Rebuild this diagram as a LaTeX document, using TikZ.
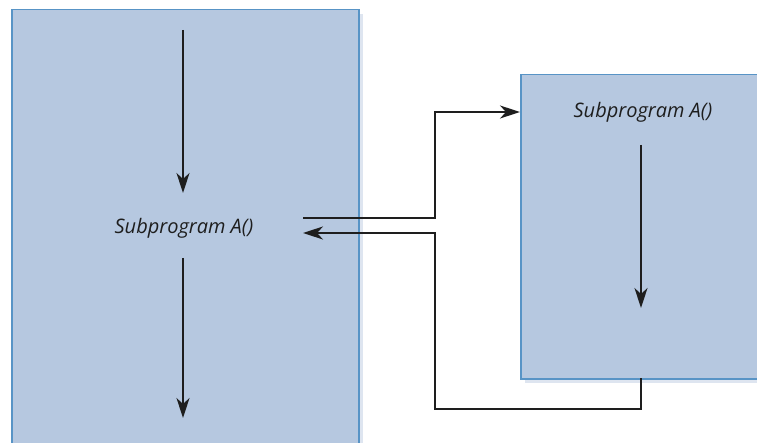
\documentclass[tikz,border=0pt]{standalone}
\usepackage{fontspec}
\setsansfont{Open Sans}
\usetikzlibrary{arrows.meta, positioning, calc}
\definecolor{boxfill}{RGB}{182,200,224}
\definecolor{boxline}{RGB}{88,148,198}
\definecolor{boxshade}{RGB}{222,229,240}
\definecolor{flowcol}{RGB}{30,30,30}

\begin{document}
\begin{tikzpicture}[x=1pt, y=-1pt,
  prog/.style={rectangle, draw=boxline, fill=boxfill, line width=1.5pt,
               inner sep=0pt, anchor=north west},
  lbl/.style={font=\fontsize{20}{24}\selectfont\sffamily\itshape, text=flowcol},
  arr/.style={-{Stealth[length=20pt, width=13pt, inset=6pt]}, line width=1.8pt, flowcol},
]
\useasboundingbox (0,0) rectangle (757,443);
% Shadows
\fill[boxshade] (16,14) rectangle (363,443);
\fill[boxshade] (525,79) rectangle (775,383);

% Programs
\node[prog, minimum width=347pt, minimum height=440pt] (main) at (11,9) {};
\node[prog, minimum width=260pt, minimum height=304pt] (sub) at (520,74) {};

% Labels
\node[lbl] (callA) at (184,228) {Subprogram A()};
\node[lbl] (subA) at (643,112) {Subprogram A()};

% Flow inside the programs
\coordinate (mtop) at (183,30);
\coordinate (mstop) at (183,193);
\coordinate (mgo) at (183,258);
\coordinate (mend) at (183,418);
\coordinate (stop) at (641,145);
\coordinate (send) at (641,308);
\draw[arr] (mtop) -- (mstop);
\draw[arr] (mgo) -- (mend);
\draw[arr] (stop) -- (send);

% Call and return
\coordinate (callout) at (303,218);
\coordinate (callback) at (303,233);
\coordinate (bend) at (435,0);
\coordinate (sret) at (641,378);
\draw[arr] (callout) -| (bend |- subA) -- (sub.west |- subA);
\draw[arr] (sret) -- ++(0,31) -| (bend |- callback) -- (callback);
\end{tikzpicture}
\end{document}
